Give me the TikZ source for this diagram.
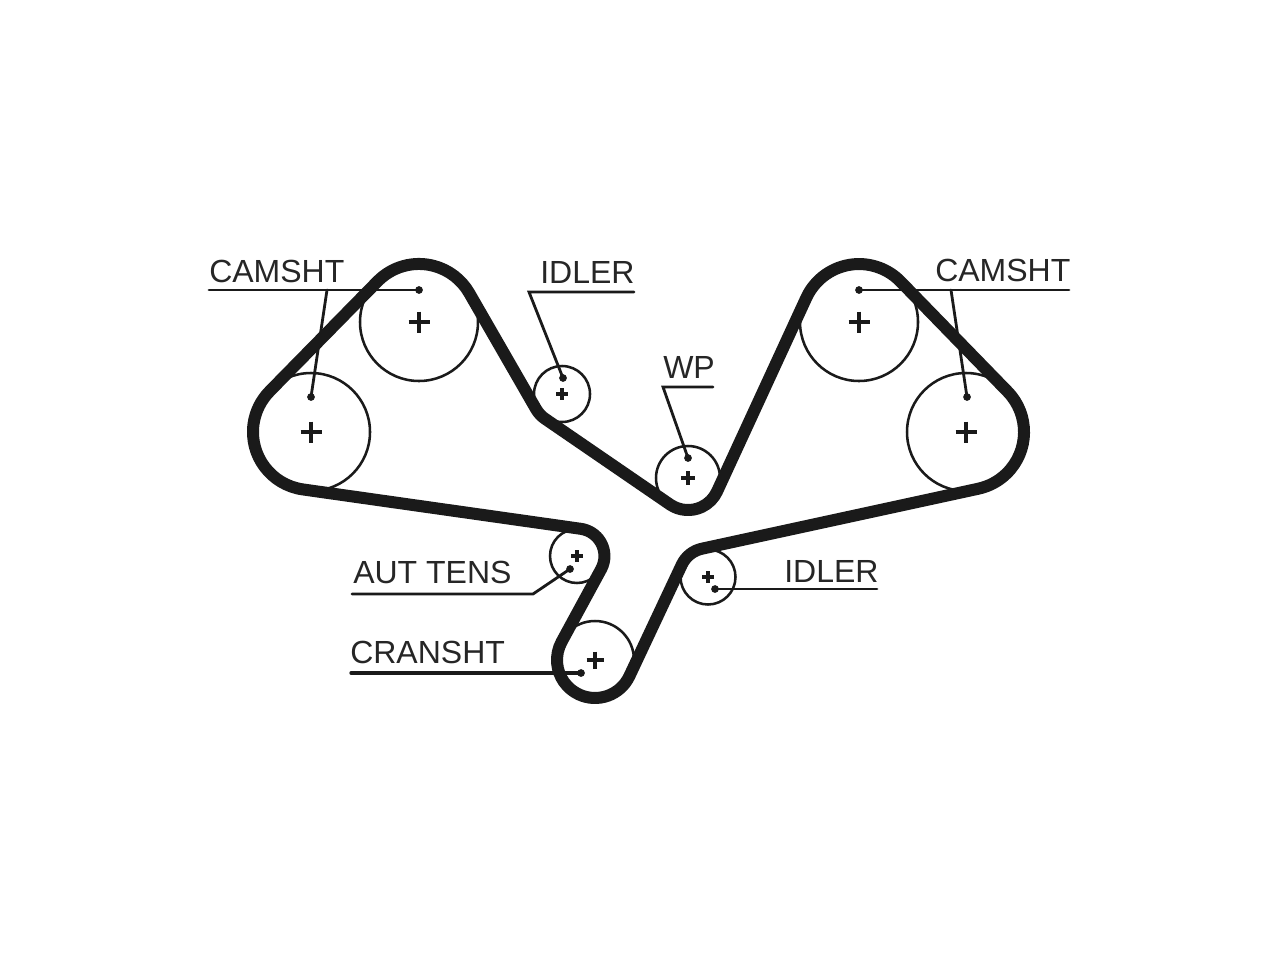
\documentclass[tikz,border=0pt]{standalone}
\usepackage{fontspec}
\setmainfont{Liberation Sans}
\definecolor{ink}{HTML}{1A1A1A}
\definecolor{txt}{HTML}{262626}
\tikzset{
  pulley/.style={circle,draw=ink,line width=1.9pt,inner sep=0pt,fill=white},
  beltline/.style={draw=ink,line width=9pt,line join=round},
  leader/.style={draw=ink,line width=2.1pt,line cap=round,line join=miter},
  pin/.style={circle,fill=ink,inner sep=0pt,minimum size=5.8pt},
  lbl/.style={anchor=base west,inner sep=0pt,text=txt,font=\fontsize{24pt}{26pt}\selectfont},
  crossmark/.style={draw=ink,line width=2.5pt},
}
\newcommand{\pulleyat}[5]{%
  \node[pulley,minimum size=#4*1.5pt] (#1) at (#2,#3) {};
  \draw[crossmark] (#2-#5,#3) -- (#2+#5,#3) (#2,#3-#5) -- (#2,#3+#5);
}
\begin{document}
\begin{tikzpicture}[x=.75pt,y=.75pt,yscale=-1]
\path[fill=white,use as bounding box] (0,0) rectangle (1280,960);
% pulleys
\pulleyat{camLa}{311}{432}{59}{10.5}
\pulleyat{camLb}{419}{322}{59}{10.5}
\pulleyat{idlerA}{562}{394}{28}{6}
\pulleyat{wp}{688}{478}{32}{7}
\pulleyat{camRa}{859}{322}{59}{10.5}
\pulleyat{camRb}{966}{432}{59}{10.5}
\pulleyat{tens}{577}{556}{27}{6}
\pulleyat{idlerB}{708}{577}{27.5}{6}
\pulleyat{crank}{595}{660}{39}{8.5}
% belt
\path[beltline] (269.6,391.3) -- (377.6,281.3)
  arc[start angle=-135.5,end angle=-30,radius=58]
  -- (536.0,409.0) arc[start angle=150,end angle=124.5,radius=30]
  -- (669.9,504.4) arc[start angle=124.5,end angle=24.7,radius=32]
  -- (806.3,297.8) arc[start angle=-155.3,end angle=-44.2,radius=58]
  -- (1007.6,391.6) arc[start angle=-44.2,end angle=77.8,radius=58]
  -- (701.9,548.7) arc[start angle=257.8,end angle=205.1,radius=29]
  -- (629.4,676.1) arc[start angle=25.1,end angle=208.6,radius=38]
  -- (601.1,569.2) arc[start angle=28.6,end angle=-81.9,radius=27.5]
  -- (302.8,489.4) arc[start angle=98.1,end angle=224.5,radius=58]
  -- cycle;
% pins
\node[pin] (pLb) at (419,290) {};
\node[pin] (pLa) at (311,397) {};
\node[pin] (pIa) at (563,378) {};
\node[pin] (pW) at (688,458) {};
\node[pin] (pRa) at (859,290) {};
\node[pin] (pRb) at (967,397) {};
\node[pin] (pT) at (570,569) {};
\node[pin] (pC) at (581,673) {};
\node[pin] (pIb) at (715,589) {};
% leader corners
\coordinate (cLs) at (209,290);
\coordinate (cLm) at (327,290);
\coordinate (iAe) at (634,292);
\coordinate (iAk) at (529,292);
\coordinate (wE) at (713,387);
\coordinate (wK) at (663,387);
\coordinate (cRe) at (1069,290);
\coordinate (cRm) at (951,290);
\coordinate (tS) at (352,594);
\coordinate (tK) at (533,594);
\coordinate (cS) at (351,673);
\coordinate (iBe) at (877,589);
\draw[leader] (cLs) -- (pLb.center);
\draw[leader] (cLm) -- (pLa.center);
\draw[leader] (iAe) -- (iAk) -- (pIa.center);
\draw[leader] (wE) -- (wK) -- (pW.center);
\draw[leader] (pRa.center) -- (cRe);
\draw[leader] (cRm) -- (pRb.center);
\draw[leader] (tS) -- (tK) -- (pT.center);
\draw[leader,line width=2.5pt] (cS) -- (pC.center);
\draw[leader] (pIb.center) -- (iBe);
% labels
\node[lbl] (t1) at (209,282) {CAMSHT};
\node[lbl] (t2) at (540,283) {IDLER};
\node[lbl] (t3) at (663,378) {WP};
\node[lbl] (t4) at (935,281) {CAMSHT};
\node[lbl] (t5) at (353,583) {AUT TENS};
\node[lbl] (t6) at (350,663) {CRANSHT};
\node[lbl] (t7) at (784,582) {IDLER};
\end{tikzpicture}
\end{document}
